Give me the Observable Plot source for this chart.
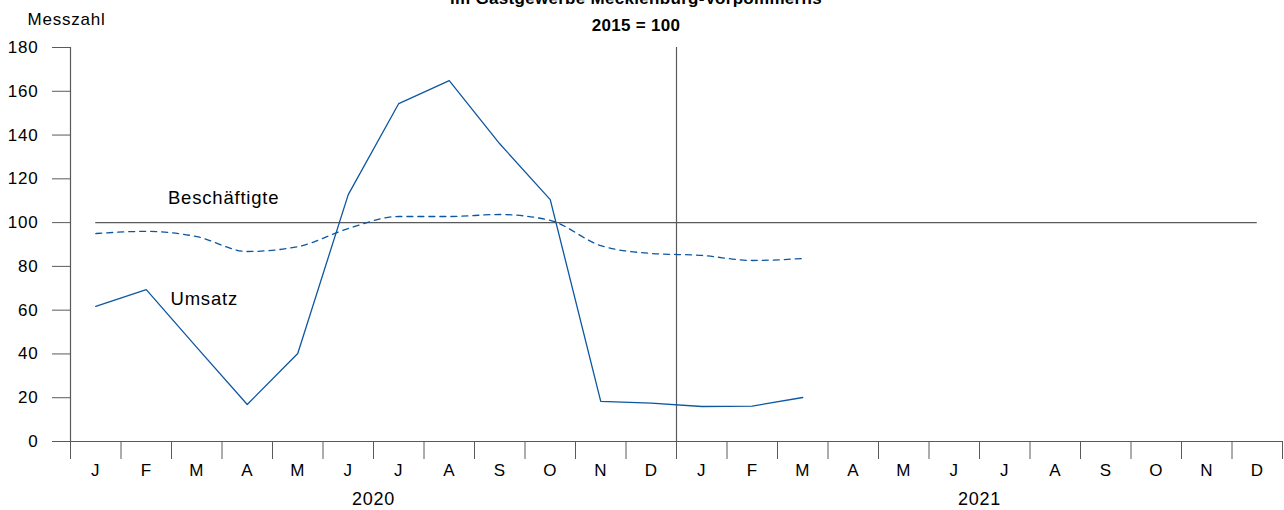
<!DOCTYPE html>
<html>
<head>
<meta charset="utf-8">
<script src="https://cdn.jsdelivr.net/npm/d3@7"></script>
<script src="https://cdn.jsdelivr.net/npm/@observablehq/plot@0.6"></script>
<style>
  html, body { margin: 0; padding: 0; background: #fff; overflow: hidden; }
  body { font-family: "Liberation Sans", Arial, sans-serif; position: relative; width: 1284px; height: 510px; }
  .title { position: absolute; left: 636px; transform: translateX(-50%); font-weight: bold; font-size: 17px; line-height: 20px; white-space: nowrap; color: #000; letter-spacing: 0.3px; }
  #chart { position: absolute; left: 0; top: 0; }
  #chart svg text { letter-spacing: 0.8px; }
</style>
</head>
<body>
<div id="chart"></div>
<div class="title" style="top:-11px">im Gastgewerbe Mecklenburg-Vorpommerns</div>
<div class="title" style="top:16px">2015 = 100</div>
<script>
const monthLabels = ["J","F","M","A","M","J","J","A","S","O","N","D","J","F","M","A","M","J","J","A","S","O","N","D"];
const years = ["2020", "2021"];
const umsatz = [61.7, 69.4, 43, 16.9, 40.2, 112.8, 154.4, 164.9, 136, 110.5, 18.3, 17.5, 16.0, 16.2, 20.1];
const beschaeftigte = [95, 96, 93.6, 86.8, 89, 97.3, 102.8, 102.8, 103.7, 101, 89.5, 85.9, 85, 82.7, 83.6];
const yTicks = [0, 20, 40, 60, 80, 100, 120, 140, 160, 180];
const referenceValue = 100;
const seriesLabels = [
  {name: "Beschäftigte", month: 1.93, value: 111},
  {name: "Umsatz", month: 1.98, value: 64.9}
];

const monthCount = monthLabels.length;
const rows = umsatz.map((u, i) => ({pos: i + 0.5, umsatz: u, besch: beschaeftigte[i]}));
const boundaries = d3.range(monthCount + 1);
const centers = monthLabels.map((_, i) => i + 0.5);
const yearCenters = years.map((_, i) => i * 12 + 6);
const axisColor = "#5a5a5a";
const blue = "#0d57a0";
const fs = 17;

const chart = Plot.plot({
  width: 1284,
  height: 510,
  marginLeft: 70,
  marginRight: 2,
  marginTop: 47,
  marginBottom: 69,
  style: {fontFamily: '"Liberation Sans", Arial, sans-serif', fontSize: fs + "px", color: "#000", background: "white"},
  x: {type: "linear", domain: [0, monthCount], axis: null},
  y: {domain: [0, 180], axis: null},
  marks: [
    Plot.axisY({ticks: yTicks, tickSize: 18, tickPadding: 14, stroke: axisColor, fontSize: fs, label: null, tickFormat: d => d}),
    Plot.ruleX([0], {y1: 0, y2: 180, stroke: axisColor, strokeWidth: 1.2}),
    Plot.ruleY([0], {stroke: axisColor, strokeWidth: 1.2}),
    Plot.axisX({ticks: boundaries, tickSize: 18, stroke: axisColor, tickFormat: () => "", label: null}),
    Plot.axisX({ticks: centers, tickSize: 0, tickPadding: 22, fontSize: fs, label: null, tickFormat: d => monthLabels[Math.floor(d)]}),
    Plot.axisX({ticks: yearCenters, tickSize: 0, tickPadding: 51, fontSize: 18, label: null, tickFormat: d => years[Math.floor(d / 12)]}),
    Plot.ruleY([referenceValue], {x1: centers[0], x2: centers[monthCount - 1], stroke: axisColor, strokeWidth: 1.2}),
    Plot.ruleX([12], {y1: 0, y2: 180, stroke: axisColor, strokeWidth: 1.2}),
    Plot.line(rows, {x: "pos", y: "besch", stroke: blue, strokeWidth: 1.3, strokeDasharray: "6,5", curve: "monotone-x"}),
    Plot.line(rows, {x: "pos", y: "umsatz", stroke: blue, strokeWidth: 1.3}),
    Plot.text(seriesLabels, {x: "month", y: "value", text: "name", textAnchor: "start", fontSize: 18.5, fill: "#000"}),
    Plot.text(["Messzahl"], {frameAnchor: "top-left", dx: -43, dy: -28, lineAnchor: "middle", textAnchor: "start", fontSize: 17, fill: "#000"})
  ]
});
document.getElementById("chart").appendChild(chart);
</script>
</body>
</html>
